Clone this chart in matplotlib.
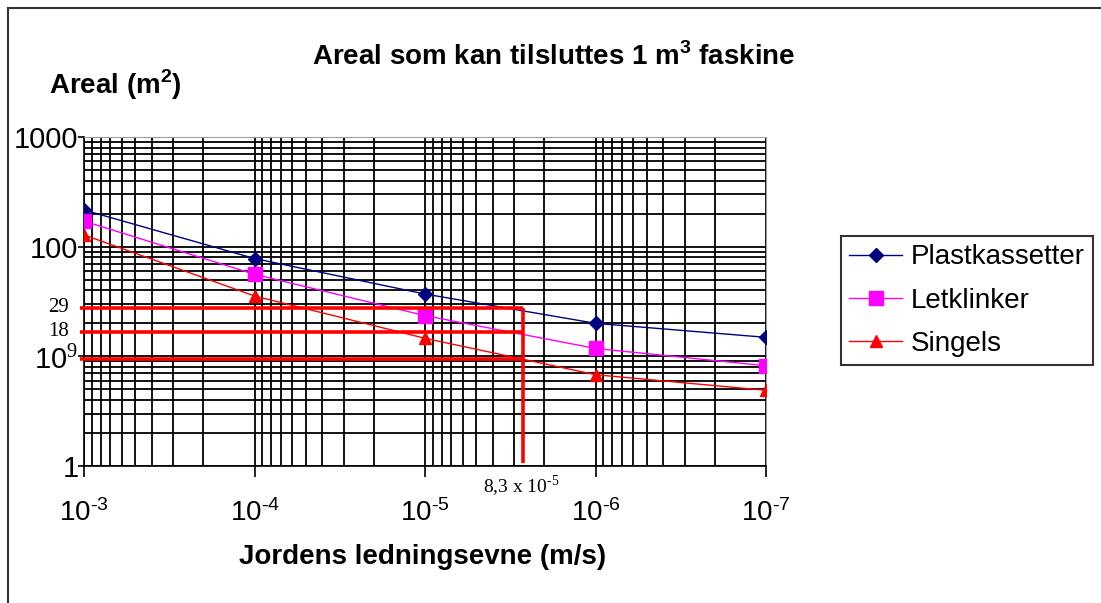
import matplotlib
matplotlib.use('Agg')
import matplotlib.pyplot as plt
from matplotlib.lines import Line2D
from matplotlib.ticker import FuncFormatter, NullFormatter, LogLocator
import numpy as np

plt.rcParams['font.family'] = ['Liberation Sans', 'DejaVu Sans']
plt.rcParams['mathtext.fontset'] = 'custom'
plt.rcParams['mathtext.rm'] = 'Liberation Serif'

# soil conductivity (m/s)
conductivity = [1e-3, 1e-4, 1e-5, 1e-6, 1e-7]

# connectable area (m2) per faskine type
plastkassetter = [216, 78, 37, 20, 14.9]
letklinker = [171, 56, 23.5, 11.8, 8.2]
singels = [128, 35.5, 14.6, 6.8, 4.9]

# hand-drawn red guide lines
guide_levels = [27.8, 16.6, 9.4]
guide_labels = ['29', '18', '9']
guide_x = 2.66e-6
guide_left = 1.055e-3
guide_bottom = 1.065

W, H = 1101, 603
fig = plt.figure(figsize=(W / 100, H / 100), dpi=100)
ax = fig.add_axes([84 / W, 1 - 466 / H, (766 - 84) / W, (466 - 137) / H])

ax.set_xscale('log')
ax.set_yscale('log')
ax.set_xlim(1e-3, 1e-7)
ax.set_ylim(1, 1000)

ax.plot(conductivity, plastkassetter, color='#000080', lw=1, marker='D',
        ms=7, label='Plastkassetter', zorder=3)
ax.plot(conductivity, letklinker, color='#ff00ff', lw=1, marker='s',
        ms=10, label='Letklinker', zorder=3)
ax.plot(conductivity, singels, color='#ff0000', lw=1, marker='^',
        ms=9, label='Singels', zorder=3)

ax.hlines(guide_levels, guide_left, guide_x, colors='#ff0000', lw=2.6,
          clip_on=False, zorder=5)
ax.vlines(guide_x, guide_bottom, guide_levels[0], colors='#ff0000', lw=2.6,
          zorder=5)


def xfmt(v, p):
    e = int(round(np.log10(v)))
    return r'$\mathdefault{10^{\text{-}%d}}$' % abs(e)


def yfmt(v, p):
    s = f'{v:g}'
    # the hand-written "9" sits on top of the 10 label
    if s == '10':
        return s + r'$^{\mathrm{%s}}$' % guide_labels[2]
    return s


ax.yaxis.set_minor_locator(LogLocator(base=10, subs=range(2, 10)))
ax.xaxis.set_minor_locator(LogLocator(base=10, subs=range(2, 10)))
ax.xaxis.set_major_formatter(FuncFormatter(xfmt))
ax.yaxis.set_major_formatter(FuncFormatter(yfmt))
ax.xaxis.set_minor_formatter(NullFormatter())
ax.yaxis.set_minor_formatter(NullFormatter())
ax.grid(which='both', color='black', lw=1.3)

ax.tick_params(axis='x', which='major', length=8, width=1.2, labelsize=20, pad=16)
ax.tick_params(axis='y', which='major', length=4, width=1.2, labelsize=21, pad=0)
ax.tick_params(which='minor', length=0)
for s in ['top', 'right']:
    ax.spines[s].set_color('#a0a0a0')
for s in ['left', 'bottom']:
    ax.spines[s].set_color('black')
    ax.spines[s].set_linewidth(1.2)

# annotation texts
serif = ['Liberation Serif', 'DejaVu Serif']
for i, lab in enumerate(guide_labels[:2]):
    fig.text(48 / W, 1 - [307, 331][i] / H, lab, fontsize=15, family=serif,
             va='center', ha='left')
fig.text(483 / W, 1 - 486 / H, r'8,3 x 10$^{\mathdefault{\text{-}5}}$', fontsize=14,
         family=serif, va='center', ha='left')

fig.text(554 / W, 1 - 57 / H, r'Areal som kan tilsluttes 1 m$^{\mathdefault{3}}$ faskine',
         fontsize=20, fontweight='bold', ha='center', va='center')
fig.text(115 / W, 1 - 85 / H, r'Areal (m$^{\mathdefault{2}}$)',
         fontsize=20, fontweight='bold', ha='center', va='center')
fig.text(423 / W, 1 - 557 / H, 'Jordens ledningsevne (m/s)',
         fontsize=20, fontweight='bold', ha='center', va='center')

leg = fig.legend(loc='upper left', bbox_to_anchor=(841 / W, 1 - 236 / H),
                 fontsize=20, frameon=True, fancybox=False, edgecolor='black',
                 handlelength=1.9, handletextpad=0.3, labelspacing=0.62,
                 borderpad=0.3, borderaxespad=0)
leg.get_frame().set_linewidth(1.5)

# outer frame of the original picture
fig.add_artist(Line2D([8 / W, 1], [1 - 8 / H, 1 - 8 / H], transform=fig.transFigure,
                      color='#333333', lw=1.5))
fig.add_artist(Line2D([8 / W, 8 / W], [0, 1 - 8 / H], transform=fig.transFigure,
                      color='#333333', lw=1.5))

fig.savefig('out.png', dpi=100)
